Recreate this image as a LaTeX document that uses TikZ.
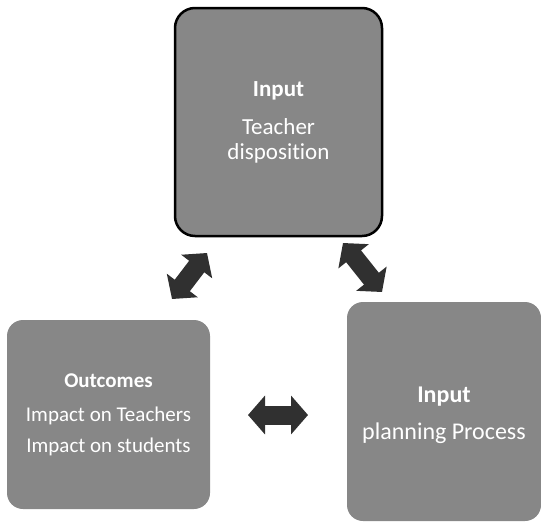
\documentclass[tikz,border=0pt]{standalone}
\usepackage{fontspec}
\setmainfont[Ligatures=NoCommon]{Carlito}
\usetikzlibrary{arrows.meta}
\definecolor{boxgray}{HTML}{878787}
\definecolor{arrowdark}{HTML}{303030}
\begin{document}
\begin{tikzpicture}[x=1pt,y=-1pt,
  box/.style={fill=boxgray, rounded corners=16pt, text=white, align=center, inner sep=0pt},
  label text/.style={text=white, align=center, inner sep=0pt},
  link/.style={draw=arrowdark, line width=19pt,
    {Triangle[length=17pt,width=38pt]}-{Triangle[length=17pt,width=38pt]}}]
\useasboundingbox (0,0) rectangle (541,523);

% the three stages
\node[box, draw=black, line width=2.5pt, rounded corners=20pt,
      minimum width=207pt, minimum height=228pt,
      font=\fontsize{23}{25}\selectfont] (disp) at (278.5,122)
  {\textbf{Input}\\[13pt]Teacher\\disposition};
\node[box, minimum width=203pt, minimum height=189pt,
      font=\fontsize{21}{31}\selectfont] (outc) at (108.5,414.5)
  {\textbf{Outcomes}\\[3pt]Impact on Teachers\\Impact on students};
\node[box, minimum width=194pt, minimum height=219pt] (plan) at (444,411.5) {};
\node[label text, font=\fontsize{24}{37}\selectfont] (plantext)
  at ([yshift=-4pt]plan.center) {\textbf{Input}\\planning Process};

% ends of the two-way arrows
\coordinate (dl) at (172,299);
\coordinate (du) at (207,253);
\coordinate (ru) at (343,243);
\coordinate (rl) at (382,292);
\coordinate (hl) at (248,415);
\coordinate (hr) at (308,415);

\draw[link] (dl) -- (du);
\draw[link] (ru) -- (rl);
\draw[link] (hl) -- (hr);
\end{tikzpicture}
\end{document}
